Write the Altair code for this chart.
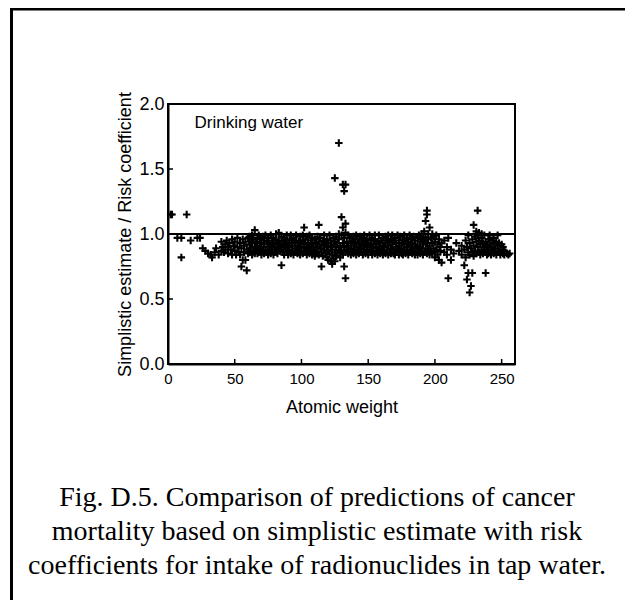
import altair as alt
import pandas as pd

X_TICKS = [0, 50, 100, 150, 200, 250]
Y_TICKS = [0.0, 0.5, 1.0, 1.5, 2.0]
X_TITLE = "Atomic weight"
Y_TITLE = "Simplistic estimate / Risk coefficient"
PANEL_LABEL = "Drinking water"
CAPTION = ("Fig. D.5. Comparison of predictions of cancer\n"
           "mortality based on simplistic estimate with risk\n"
           "coefficients for intake of radionuclides in tap water.")

# atomic weight -> simplistic estimate / risk coefficient
light_nuclides = {
    2: [1.15], 3: [1.15], 7: [0.97], 10: [0.97, 0.82], 14: [1.15], 17: [0.95],
    22: [0.97], 24: [0.97], 26: [0.89], 28: [0.87], 30: [0.85], 32: [0.84],
    33: [0.82], 35: [0.86], 36: [0.89], 38: [0.84], 40: [0.94, 0.87], 41: [0.90],
    42: [0.86], 43: [0.92, 0.88], 44: [0.95], 45: [0.85, 0.90], 46: [0.93],
    47: [0.88], 48: [0.96, 0.84], 49: [0.91], 50: [0.87, 0.94], 51: [0.84],
    52: [0.90, 0.97], 53: [0.86], 54: [0.93, 0.84], 55: [0.75, 0.89],
    56: [0.96, 0.80], 57: [0.86, 0.91], 58: [0.80, 0.94], 59: [0.72, 0.88],
    60: [0.85, 0.97],
}

medium_nuclides = {
    61: [0.92, 0.86, 0.98], 62: [0.89, 0.95], 63: [0.84, 0.93, 0.99], 64: [0.87, 0.96],
    65: [1.03, 0.90, 0.85], 66: [0.94, 0.88], 67: [0.97, 0.85, 0.91], 68: [0.86, 0.99],
    69: [0.93, 0.89], 70: [0.84, 0.96, 0.90], 71: [0.98, 0.87], 72: [0.92, 0.85, 0.95],
    73: [0.88, 0.99], 74: [0.94, 0.86], 75: [0.90, 0.97, 0.84], 76: [0.87, 0.93],
    77: [0.99, 0.85, 0.91], 78: [0.88, 0.95], 79: [0.84, 0.92, 0.97], 80: [0.90, 0.86],
    81: [0.96, 0.88, 1.00], 82: [0.85, 0.93], 83: [1.01, 0.89, 0.95], 84: [0.87, 0.92],
    85: [0.76, 0.98, 0.90], 86: [0.86, 0.94], 87: [0.91, 0.97, 0.84], 88: [0.88, 0.95],
    89: [0.99, 0.86, 0.92], 90: [0.84, 0.90], 91: [0.96, 0.88, 0.93], 92: [0.85, 0.99],
    93: [0.91, 0.87, 0.95], 94: [0.97, 0.84], 95: [0.89, 0.93, 0.86], 96: [0.95, 0.99],
    97: [0.85, 0.91, 0.88], 98: [0.94, 0.86], 99: [0.98, 0.90, 0.84], 100: [0.87, 0.93],
    101: [0.95, 0.85, 0.99], 102: [1.05, 0.89, 0.92], 103: [0.86, 0.96],
    104: [0.90, 0.84, 0.98], 105: [0.93, 0.87], 106: [0.99, 0.85, 0.91], 107: [0.88, 0.95],
    108: [0.84, 0.92, 0.97], 109: [0.90, 0.86], 110: [0.96, 0.88, 0.83], 111: [0.85, 0.93],
    112: [0.98, 0.90, 0.86], 113: [1.07, 0.94, 0.84], 114: [0.89, 0.97],
    115: [0.75, 0.86, 0.92], 116: [0.95, 0.83], 117: [0.88, 0.99, 0.91], 118: [0.85, 0.94],
    119: [0.96, 0.82, 0.90], 120: [0.87, 0.93, 0.80], 121: [0.99, 0.85],
    122: [0.79, 0.91, 0.95], 123: [0.77, 0.88, 0.84], 124: [0.97, 0.81, 0.92],
    125: [1.43, 0.86, 0.94, 0.79], 126: [0.90, 0.98, 0.83], 127: [0.85, 0.93],
    128: [1.70, 0.88, 0.96, 1.00], 129: [0.82, 0.91, 0.86], 130: [1.13, 0.99, 0.87],
    131: [1.38, 1.05, 0.93, 0.84], 132: [1.33, 0.75, 0.90, 0.97],
    133: [1.38, 1.08, 0.66, 0.86, 1.01], 134: [0.94, 0.88], 135: [0.85, 0.99, 0.91],
    136: [0.97, 0.87], 137: [0.89, 0.93, 0.84], 138: [0.95, 0.86], 139: [0.91, 0.98, 0.85],
    140: [0.88, 0.94], 141: [0.84, 0.92, 0.99], 142: [0.96, 0.87], 143: [0.90, 0.85, 0.93],
    144: [0.98, 0.89], 145: [0.86, 0.95, 0.92], 146: [0.84, 0.97], 147: [0.91, 0.88, 0.99],
    148: [0.85, 0.94], 149: [0.96, 0.90, 0.87], 150: [0.93, 0.84], 151: [0.88, 0.99, 0.91],
    152: [0.86, 0.95], 153: [0.97, 0.84, 0.90], 154: [0.92, 0.87], 155: [0.85, 0.96, 0.99],
    156: [0.89, 0.93], 157: [0.94, 0.86, 0.84], 158: [0.99, 0.90], 159: [0.87, 0.93, 0.85],
    160: [0.95, 0.88], 161: [0.84, 0.97, 0.91], 162: [0.90, 0.86], 163: [0.98, 0.85, 0.93],
    164: [0.88, 0.95], 165: [0.91, 0.84, 0.99], 166: [0.86, 0.94], 167: [0.96, 0.89, 0.85],
    168: [0.92, 0.99], 169: [0.85, 0.88, 0.95], 170: [0.97, 0.84], 171: [0.90, 0.93, 0.86],
    172: [0.99, 0.88], 173: [0.84, 0.95, 0.91], 174: [0.87, 0.98], 175: [0.93, 0.85, 0.89],
    176: [0.96, 0.84], 177: [0.88, 0.92, 0.99], 178: [0.85, 0.95], 179: [0.90, 0.87, 0.97],
    180: [0.94, 0.84], 181: [0.86, 0.99, 0.91], 182: [0.93, 0.88], 183: [0.85, 0.96, 0.90],
    184: [0.98, 0.87], 185: [0.84, 0.92, 0.95], 186: [0.89, 0.86], 187: [0.97, 0.91, 0.84],
    188: [0.88, 0.99], 189: [0.85, 0.94, 0.90], 190: [0.96, 0.87, 1.00],
    191: [0.92, 0.84, 0.98], 192: [0.86, 1.02, 0.95], 193: [1.10, 0.89, 0.97],
    194: [1.18, 1.15, 0.85, 0.93], 195: [1.00, 0.88, 0.96], 196: [0.91, 1.05, 0.84],
    197: [0.97, 0.87], 198: [0.85, 0.93, 1.00], 199: [0.89, 0.98], 200: [0.94, 0.86, 0.82],
    201: [0.88, 0.99], 202: [0.84, 0.92], 203: [0.96, 0.80], 204: [0.87, 0.90],
    205: [0.93, 0.78],
}

heavy_nuclides = {
    207: [0.86, 0.95], 209: [0.90, 0.84], 210: [0.66, 0.97], 212: [0.88, 0.80],
    214: [0.85], 216: [0.93], 218: [0.87], 220: [0.91, 0.84], 222: [0.88, 0.76],
    223: [0.95, 0.82], 224: [0.65, 0.90], 225: [0.86, 0.70, 0.99], 226: [0.55, 0.93, 0.84],
    227: [0.60, 0.89], 228: [0.70, 0.96, 0.86], 229: [1.07, 0.91, 0.83], 230: [0.87, 0.98],
    231: [0.94, 0.85, 1.02], 232: [1.18, 0.90, 0.99], 233: [0.86, 0.95, 1.01],
    234: [0.92, 0.84], 235: [0.97, 0.88, 1.00], 236: [0.85, 0.93], 237: [0.90, 0.99, 0.87],
    238: [0.70, 0.94, 0.86], 239: [0.84, 0.91], 240: [0.96, 0.88, 0.85], 241: [0.92, 0.99],
    242: [0.86, 0.90, 0.84], 243: [0.95, 0.88], 244: [0.85, 0.93, 0.97], 245: [0.89, 0.86],
    246: [0.84, 0.94], 247: [0.91, 0.87, 0.99], 248: [0.86, 0.93], 249: [0.88, 0.84],
    250: [0.92, 0.86], 251: [0.85, 0.90], 252: [0.87, 0.84], 253: [0.86], 254: [0.85],
    255: [0.84], 256: [0.85],
}

rows = [(m, r) for group in (light_nuclides, medium_nuclides, heavy_nuclides)
        for m, rs in group.items() for r in rs]
df = pd.DataFrame(rows, columns=["mass", "ratio"])

W, H = 347, 260
SANS = "Liberation Sans"
xs = alt.Scale(domain=[0, 260], nice=False, zero=False)
ys = alt.Scale(domain=[0, 2], nice=False)
PLUS = "M-1,0H1M0,-1V1"

one = pd.DataFrame({"a": [0]})

x_axis = alt.Axis(
    title=X_TITLE, values=X_TICKS, format="d", ticks=False, grid=False, labelFlush=False,
    domainColor="black", domainWidth=2, labelFont=SANS, labelFontSize=15,
    labelColor="black", labelPadding=7, titleFont=SANS, titleFontSize=18,
    titleFontWeight="normal", titleColor="black", titlePadding=12)
y_axis = alt.Axis(
    title=Y_TITLE, values=Y_TICKS, format=".1f", ticks=False, grid=False, labelFlush=False,
    domainColor="black", domainWidth=2, labelFont=SANS, labelFontSize=18,
    labelColor="black", labelPadding=4, titleFont=SANS, titleFontSize=18,
    titleFontWeight="normal", titleColor="black", titlePadding=4)

points = alt.Chart(df).mark_point(
    shape=PLUS, filled=False, stroke="black", strokeWidth=2.1, size=56, opacity=1
).encode(
    x=alt.X("mass:Q", scale=xs, axis=x_axis),
    y=alt.Y("ratio:Q", scale=ys, axis=y_axis),
)

ref_line = alt.Chart(pd.DataFrame({"ratio": [1.0]})).mark_rule(
    color="black", strokeWidth=2
).encode(y=alt.Y("ratio:Q", scale=ys, axis=y_axis))

x_ticks = alt.Chart(pd.DataFrame({"mass": X_TICKS})).mark_rule(
    color="black", strokeWidth=1.5
).encode(x=alt.X("mass:Q", scale=xs, axis=x_axis), y=alt.value(H), y2=alt.value(H - 5))

y_ticks = alt.Chart(pd.DataFrame({"ratio": Y_TICKS})).mark_rule(
    color="black", strokeWidth=1.5
).encode(y=alt.Y("ratio:Q", scale=ys, axis=y_axis), x=alt.value(0), x2=alt.value(5))

panel_label = alt.Chart(pd.DataFrame({"t": [PANEL_LABEL]})).mark_text(
    font=SANS, fontSize=17, align="left", baseline="alphabetic", color="black"
).encode(text="t:N", x=alt.value(26.5), y=alt.value(23.7))

caption = alt.Chart(pd.DataFrame({"t": [CAPTION]})).mark_text(
    font="Liberation Serif", fontSize=28, align="center", baseline="alphabetic",
    lineBreak="\n", lineHeight=34, color="black"
).encode(text="t:N", x=alt.value(149), y=alt.value(402))

border_top = alt.Chart(one).mark_rule(color="black", strokeWidth=3).encode(
    x=alt.value(-158), x2=alt.value(480), y=alt.value(-95))
border_left = alt.Chart(one).mark_rule(color="black", strokeWidth=3).encode(
    x=alt.value(-156.5), y=alt.value(-96.5), y2=alt.value(520))

chart = alt.layer(
    border_top, border_left, ref_line, x_ticks, y_ticks, points, panel_label, caption
).properties(
    width=W, height=H, background="white",
    padding={"left": 160, "top": 96, "right": 110, "bottom": 236},
    autosize=alt.AutoSizeParams(type="none"),
).configure_view(stroke="black", strokeWidth=2)

chart.save("out.html", embed_options={"renderer": "svg", "actions": False})
